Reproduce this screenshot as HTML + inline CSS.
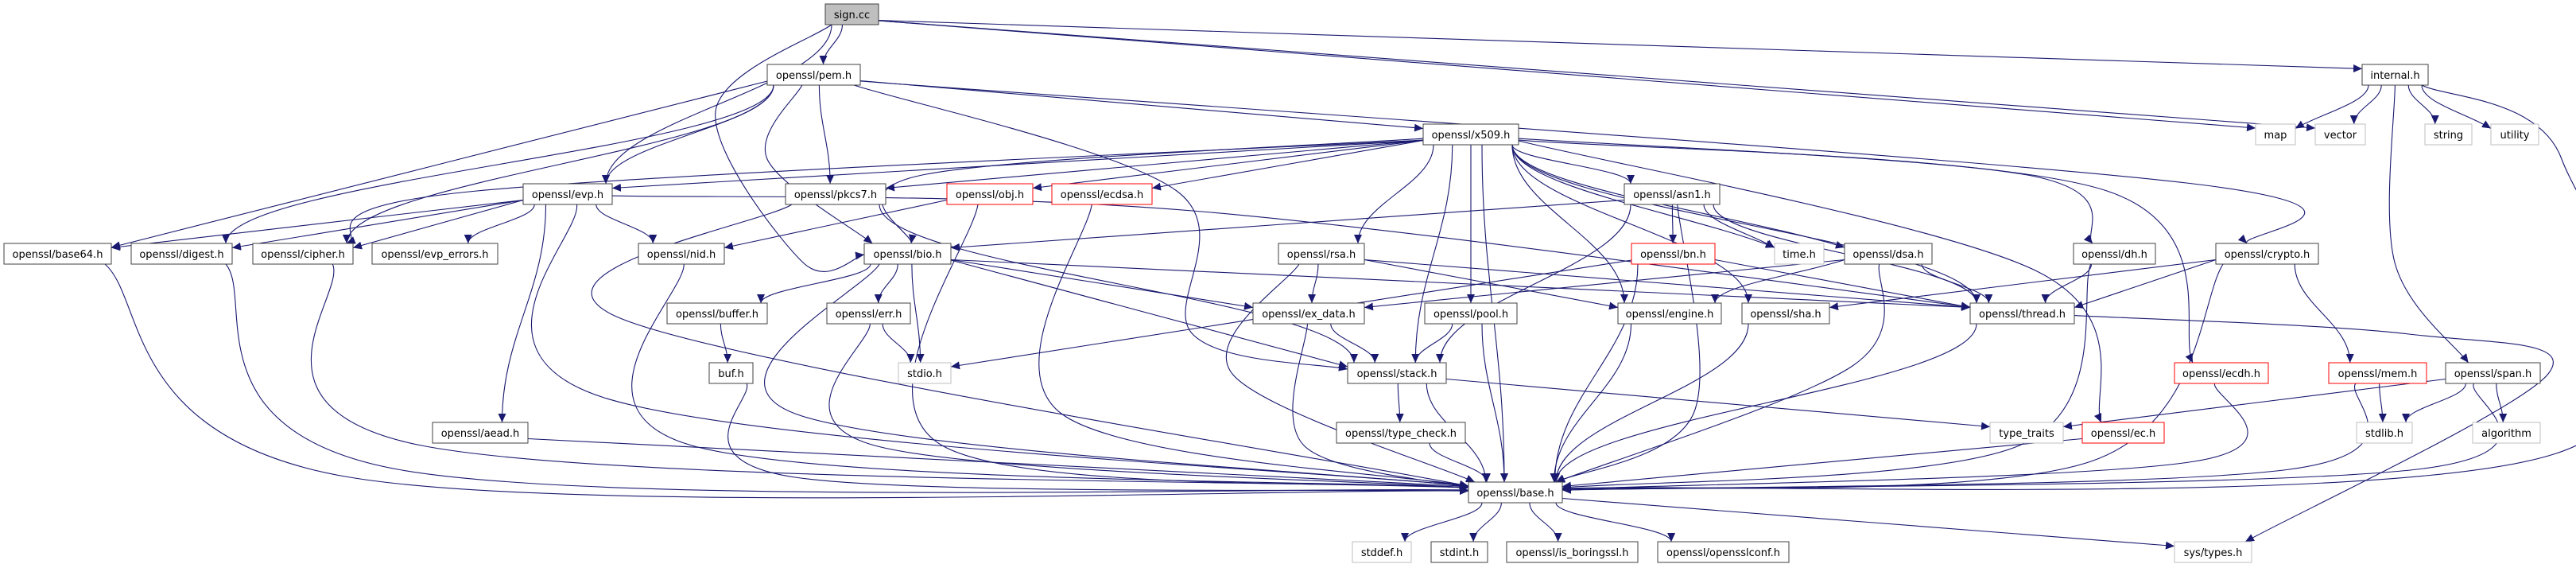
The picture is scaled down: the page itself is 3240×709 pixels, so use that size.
<!DOCTYPE html>
<html><head><meta charset="utf-8">
<style>
html,body{margin:0;padding:0;background:#fff;}
svg{display:block;}
text{font-family:"DejaVu Sans","Liberation Sans",sans-serif;font-size:13px;fill:#000;}
</style></head>
<body>
<svg id="s" width="3240" height="709" viewBox="0 0 3240 709" xmlns="http://www.w3.org/2000/svg">
<defs>
<marker id="ah" markerUnits="userSpaceOnUse" markerWidth="12" markerHeight="10" refX="11" refY="5" orient="auto">
<path d="M0,0 L11,5 L0,10 z" fill="#191970"/>
</marker>
</defs>
<g id="edges" fill="none" stroke="#191970" stroke-width="1.1"></g>
<g id="nodes">
<g id="sign"><rect x="1038" y="5" width="67" height="26" fill="#bfbfbf" stroke="#404040"/><text x="1071.5" y="23" text-anchor="middle">sign.cc</text></g>
<g id="pem"><rect x="965" y="81" width="117" height="26" fill="#fff" stroke="#404040"/><text x="1023.5" y="99" text-anchor="middle">openssl/pem.h</text></g>
<g id="internal"><rect x="2971" y="81" width="83" height="26" fill="#fff" stroke="#404040"/><text x="3012.5" y="99" text-anchor="middle">internal.h</text></g>
<g id="x509"><rect x="1790" y="156" width="120" height="26" fill="#fff" stroke="#404040"/><text x="1850" y="174" text-anchor="middle">openssl/x509.h</text></g>
<g id="map"><rect x="2837" y="156" width="50" height="26" fill="#fff" stroke="#bfbfbf"/><text x="2862" y="174" text-anchor="middle">map</text></g>
<g id="vector"><rect x="2912" y="156" width="63" height="26" fill="#fff" stroke="#bfbfbf"/><text x="2943.5" y="174" text-anchor="middle">vector</text></g>
<g id="string"><rect x="3050" y="156" width="59" height="26" fill="#fff" stroke="#bfbfbf"/><text x="3079.5" y="174" text-anchor="middle">string</text></g>
<g id="utility"><rect x="3133" y="156" width="60" height="26" fill="#fff" stroke="#bfbfbf"/><text x="3163" y="174" text-anchor="middle">utility</text></g>
<g id="evp"><rect x="658" y="231" width="112" height="26" fill="#fff" stroke="#404040"/><text x="714" y="249" text-anchor="middle">openssl/evp.h</text></g>
<g id="pkcs7"><rect x="988" y="231" width="126" height="26" fill="#fff" stroke="#404040"/><text x="1051" y="249" text-anchor="middle">openssl/pkcs7.h</text></g>
<g id="obj"><rect x="1191" y="231" width="108" height="26" fill="#fff" stroke="#ff0000"/><text x="1245" y="249" text-anchor="middle">openssl/obj.h</text></g>
<g id="ecdsa"><rect x="1323" y="231" width="126" height="26" fill="#fff" stroke="#ff0000"/><text x="1386" y="249" text-anchor="middle">openssl/ecdsa.h</text></g>
<g id="asn1"><rect x="2043" y="231" width="120" height="26" fill="#fff" stroke="#404040"/><text x="2103" y="249" text-anchor="middle">openssl/asn1.h</text></g>
<g id="base64"><rect x="5" y="306" width="135" height="26" fill="#fff" stroke="#404040"/><text x="72.5" y="324" text-anchor="middle">openssl/base64.h</text></g>
<g id="digest"><rect x="165" y="306" width="127" height="26" fill="#fff" stroke="#404040"/><text x="228.5" y="324" text-anchor="middle">openssl/digest.h</text></g>
<g id="cipher"><rect x="318" y="306" width="126" height="26" fill="#fff" stroke="#404040"/><text x="381" y="324" text-anchor="middle">openssl/cipher.h</text></g>
<g id="evperr"><rect x="468" y="306" width="158" height="26" fill="#fff" stroke="#404040"/><text x="547" y="324" text-anchor="middle">openssl/evp_errors.h</text></g>
<g id="nid"><rect x="803" y="306" width="108" height="26" fill="#fff" stroke="#404040"/><text x="857" y="324" text-anchor="middle">openssl/nid.h</text></g>
<g id="bio"><rect x="1087" y="306" width="109" height="26" fill="#fff" stroke="#404040"/><text x="1141.5" y="324" text-anchor="middle">openssl/bio.h</text></g>
<g id="rsa"><rect x="1608" y="306" width="108" height="26" fill="#fff" stroke="#404040"/><text x="1662" y="324" text-anchor="middle">openssl/rsa.h</text></g>
<g id="bn"><rect x="2052" y="306" width="105" height="26" fill="#fff" stroke="#ff0000"/><text x="2104.5" y="324" text-anchor="middle">openssl/bn.h</text></g>
<g id="time"><rect x="2232" y="306" width="62" height="26" fill="#fff" stroke="#bfbfbf"/><text x="2263" y="324" text-anchor="middle">time.h</text></g>
<g id="dsa"><rect x="2320" y="306" width="110" height="26" fill="#fff" stroke="#404040"/><text x="2375" y="324" text-anchor="middle">openssl/dsa.h</text></g>
<g id="dh"><rect x="2608" y="306" width="103" height="26" fill="#fff" stroke="#404040"/><text x="2659.5" y="324" text-anchor="middle">openssl/dh.h</text></g>
<g id="crypto"><rect x="2787" y="306" width="129" height="26" fill="#fff" stroke="#404040"/><text x="2851.5" y="324" text-anchor="middle">openssl/crypto.h</text></g>
<g id="buffer"><rect x="839" y="381" width="126" height="26" fill="#fff" stroke="#404040"/><text x="902" y="399" text-anchor="middle">openssl/buffer.h</text></g>
<g id="err"><rect x="1040" y="381" width="105" height="26" fill="#fff" stroke="#404040"/><text x="1092.5" y="399" text-anchor="middle">openssl/err.h</text></g>
<g id="exdata"><rect x="1576" y="381" width="140" height="26" fill="#fff" stroke="#404040"/><text x="1646" y="399" text-anchor="middle">openssl/ex_data.h</text></g>
<g id="pool"><rect x="1792" y="381" width="116" height="26" fill="#fff" stroke="#404040"/><text x="1850" y="399" text-anchor="middle">openssl/pool.h</text></g>
<g id="engine"><rect x="2035" y="381" width="130" height="26" fill="#fff" stroke="#404040"/><text x="2100" y="399" text-anchor="middle">openssl/engine.h</text></g>
<g id="sha"><rect x="2191" y="381" width="110" height="26" fill="#fff" stroke="#404040"/><text x="2246" y="399" text-anchor="middle">openssl/sha.h</text></g>
<g id="thread"><rect x="2478" y="381" width="131" height="26" fill="#fff" stroke="#404040"/><text x="2543.5" y="399" text-anchor="middle">openssl/thread.h</text></g>
<g id="buf"><rect x="892" y="456" width="55" height="26" fill="#fff" stroke="#404040"/><text x="919.5" y="474" text-anchor="middle">buf.h</text></g>
<g id="stdio"><rect x="1130" y="456" width="66" height="26" fill="#fff" stroke="#bfbfbf"/><text x="1163" y="474" text-anchor="middle">stdio.h</text></g>
<g id="stack"><rect x="1695" y="456" width="124" height="26" fill="#fff" stroke="#404040"/><text x="1757" y="474" text-anchor="middle">openssl/stack.h</text></g>
<g id="ecdh"><rect x="2735" y="456" width="118" height="26" fill="#fff" stroke="#ff0000"/><text x="2794" y="474" text-anchor="middle">openssl/ecdh.h</text></g>
<g id="mem"><rect x="2929" y="456" width="123" height="26" fill="#fff" stroke="#ff0000"/><text x="2990.5" y="474" text-anchor="middle">openssl/mem.h</text></g>
<g id="span"><rect x="3076" y="456" width="119" height="26" fill="#fff" stroke="#404040"/><text x="3135.5" y="474" text-anchor="middle">openssl/span.h</text></g>
<g id="aead"><rect x="544" y="531" width="120" height="26" fill="#fff" stroke="#404040"/><text x="604" y="549" text-anchor="middle">openssl/aead.h</text></g>
<g id="typecheck"><rect x="1681" y="531" width="162" height="26" fill="#fff" stroke="#404040"/><text x="1762" y="549" text-anchor="middle">openssl/type_check.h</text></g>
<g id="typetraits"><rect x="2503" y="531" width="92" height="26" fill="#fff" stroke="#bfbfbf"/><text x="2549" y="549" text-anchor="middle">type_traits</text></g>
<g id="ec"><rect x="2619" y="531" width="103" height="26" fill="#fff" stroke="#ff0000"/><text x="2670.5" y="549" text-anchor="middle">openssl/ec.h</text></g>
<g id="stdlib"><rect x="2964" y="531" width="70" height="26" fill="#fff" stroke="#bfbfbf"/><text x="2999" y="549" text-anchor="middle">stdlib.h</text></g>
<g id="algorithm"><rect x="3110" y="531" width="85" height="26" fill="#fff" stroke="#bfbfbf"/><text x="3152.5" y="549" text-anchor="middle">algorithm</text></g>
<g id="base"><rect x="1847" y="606" width="118" height="26" fill="#fff" stroke="#404040"/><text x="1906" y="624" text-anchor="middle">openssl/base.h</text></g>
<g id="stddef"><rect x="1701" y="681" width="74" height="26" fill="#fff" stroke="#bfbfbf"/><text x="1738" y="699" text-anchor="middle">stddef.h</text></g>
<g id="stdint"><rect x="1800" y="681" width="71" height="26" fill="#fff" stroke="#404040"/><text x="1835.5" y="699" text-anchor="middle">stdint.h</text></g>
<g id="isb"><rect x="1895" y="681" width="165" height="26" fill="#fff" stroke="#404040"/><text x="1977.5" y="699" text-anchor="middle">openssl/is_boringssl.h</text></g>
<g id="conf"><rect x="2085" y="681" width="165" height="26" fill="#fff" stroke="#404040"/><text x="2167.5" y="699" text-anchor="middle">openssl/opensslconf.h</text></g>
<g id="systypes"><rect x="2735" y="681" width="97" height="26" fill="#fff" stroke="#bfbfbf"/><text x="2783.5" y="699" text-anchor="middle">sys/types.h</text></g>
</g>
</svg>
<script>
(function(){
var E=[
["sign","pem"],["sign","evp"],["sign","bio",[[900,140],[1010,330]]],["sign","internal"],["sign","map"],["sign","vector"],
["pem","base64"],["pem","digest"],["pem","cipher"],["pem","evp"],["pem","bio",[[965,200]]],["pem","pkcs7"],["pem","x509"],["pem","stack",[[1480,240],[1500,420]]],["pem","crypto",[[2750,230]]],
["x509","evp"],["x509","pkcs7"],["x509","obj"],["x509","ecdsa"],["x509","bio",[[1160,220]]],["x509","asn1"],["x509","rsa"],["x509","stack"],["x509","pool"],["x509","base"],["x509","time"],["x509","dsa"],["x509","dh",[[2550,220]]],["x509","ecdh",[[2650,240]]],["x509","ec",[[2560,340]]],["x509","sha"],["x509","thread"],["x509","cipher",[[600,240]]],["x509","engine"],
["evp","base64"],["evp","digest"],["evp","cipher"],["evp","evperr"],["evp","nid"],["evp","aead"],["evp","base",[[760,500]]],["evp","thread",[[1500,265]]],
["pkcs7","stack"],["pkcs7","base",[[780,400]]],
["obj","nid"],["obj","base",[[1185,560]]],["ecdsa","base",[[1335,520]]],
["asn1","bio"],["asn1","bn"],["asn1","stack"],["asn1","time"],["asn1","base",[[2130,520]]],["asn1","thread"],
["bio","buffer"],["bio","err"],["bio","stdio"],["bio","exdata"],["bio","stack"],["bio","thread"],["bio","base",[[1000,520]]],
["buffer","buf"],["buf","base",[[1000,600]]],["err","stdio"],["err","base",[[1100,560]]],
["rsa","exdata"],["rsa","engine"],["rsa","base",[[1550,470]]],["rsa","thread"],
["bn","stdio"],["bn","thread"],["bn","base"],
["exdata","stack"],["exdata","base",[[1640,560]]],["pool","stack"],["pool","base"],["engine","base"],
["stack","typecheck"],["stack","base"],["stack","typetraits"],["typecheck","base"],
["base","stddef"],["base","stdint"],["base","isb"],["base","conf"],["base","systypes"],
["dsa","engine"],["dsa","exdata"],["dsa","thread"],["dsa","base",[[2330,460]]],
["dh","thread"],["dh","base",[[2540,560]]],
["crypto","sha"],["crypto","thread"],["crypto","mem"],["crypto","base",[[2630,580]]],
["sha","base"],["thread","base"],["thread","systypes",[[3030,420],[3205,470]]],
["ecdh","base",[[2760,580]]],["ec","base"],["mem","stdlib"],["mem","base",[[2880,590]]],
["span","typetraits"],["span","stdlib"],["span","algorithm"],["span","base",[[3040,590]]],
["internal","map"],["internal","vector"],["internal","string"],["internal","utility"],["internal","span",[[3012,330]]],["internal","base",[[3222,200],[3215,570]]],
["cipher","base",[[530,560]]],["digest","base",[[500,590]]],["base64","base",[[440,600]]],["nid","base",[[870,560]]],["aead","base"]
];
function box(id){var r=document.querySelector('#'+id+' rect');return {x:+r.getAttribute('x'),y:+r.getAttribute('y'),w:+r.getAttribute('width'),h:+r.getAttribute('height')};}
function att(b,px,py){
 var cx=b.x+b.w/2,cy=b.y+b.h/2,dx=px-cx,dy=py-cy;
 if(Math.abs(dy)>14 && Math.abs(dx)/Math.abs(dy) < (b.w/b.h)*0.8){
   var y=dy>0?b.y+b.h:b.y;
   var x=cx+Math.max(-b.w/2+8,Math.min(b.w/2-8,dx*0.25));
   return [x,y,1];
 }
 var x=dx>0?b.x+b.w:b.x;
 return [x,cy+Math.max(-8,Math.min(8,dy*0.1)),0];
}
var g=document.getElementById('edges'),ns='http://www.w3.org/2000/svg';
E.forEach(function(e){
 var a=box(e[0]),b=box(e[1]),w=e[2]||[];
 var first=w.length?w[0]:[b.x+b.w/2,b.y+b.h/2];
 var last=w.length?w[w.length-1]:[a.x+a.w/2,a.y+a.h/2];
 var p0=att(a,first[0],first[1]);
 var p1=att(b,last[0],last[1]);
 var d='M'+p0[0]+','+p0[1];
 if(!w.length){
  var ddx=p1[0]-p0[0],ddy=p1[1]-p0[1];
  var c1=p0[2]?[p0[0],p0[1]+ddy*0.4]:[p0[0]+ddx/3,p0[1]+ddy/3];
  var c2=p1[2]?[p1[0],p1[1]-ddy*0.4]:[p1[0]-ddx/3,p1[1]-ddy/3];
  d+=' C'+c1[0]+','+c1[1]+' '+c2[0]+','+c2[1]+' '+p1[0]+','+p1[1];
 } else {
  var pts=[p0].concat(w).concat([p1]);
  for(var i=0;i<pts.length-1;i++){
   var P0=pts[Math.max(0,i-1)],P1=pts[i],P2=pts[i+1],P3=pts[Math.min(pts.length-1,i+2)];
   var k1=[P1[0]+(P2[0]-P0[0])/6,P1[1]+(P2[1]-P0[1])/6];
   var k2=[P2[0]-(P3[0]-P1[0])/6,P2[1]-(P3[1]-P1[1])/6];
   d+=' C'+k1[0]+','+k1[1]+' '+k2[0]+','+k2[1]+' '+P2[0]+','+P2[1];
  }
 }
 var p=document.createElementNS(ns,'path');p.setAttribute('d',d);p.setAttribute('marker-end','url(#ah)');g.appendChild(p);
});
})();
</script>
</body></html>
